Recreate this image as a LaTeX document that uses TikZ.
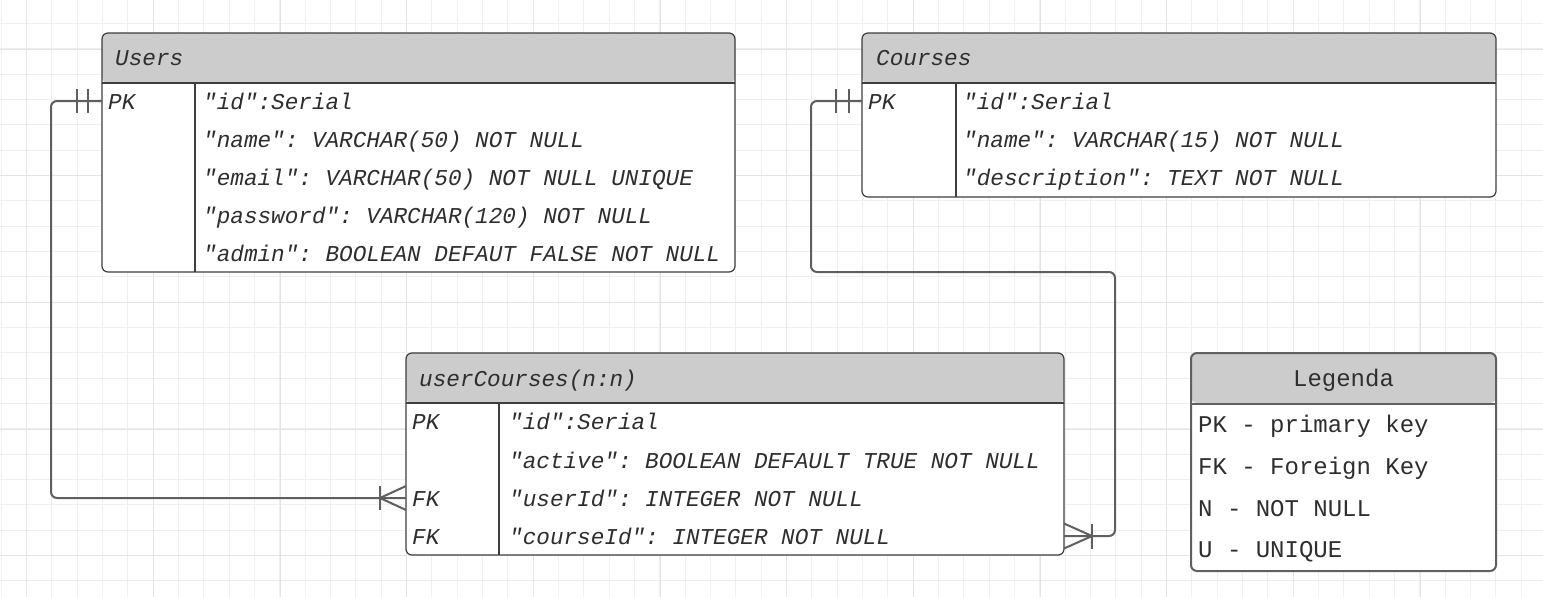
\documentclass[tikz,border=0pt]{standalone}
\usepackage{fontspec}
\setmonofont{Liberation Mono}
\newfontfamily\erfont{Liberation Mono}
\frenchspacing
\definecolor{txt}{HTML}{2E2E2E}
\definecolor{hdr}{HTML}{CCCCCC}
\definecolor{edge}{HTML}{3E3E3E}
\definecolor{legedge}{HTML}{606060}
\definecolor{conn}{HTML}{5F5F5F}
\definecolor{gridminor}{HTML}{EFEFEF}
\definecolor{gridmajor}{HTML}{E4E4E4}
\tikzset{
  tablebox/.style={draw=edge, line width=1.2pt, fill=white, rounded corners=6pt,
    inner sep=0pt, outer sep=0pt,
    path picture={\fill[hdr] (path picture bounding box.north west) rectangle ([yshift=-50pt]path picture bounding box.north east);}},
  legbox/.style={tablebox, draw=legedge, line width=2pt},
  sepline/.style={draw=edge, line width=1.2pt},
  legsep/.style={draw=legedge, line width=2.2pt},
  attr/.style={anchor=base west, yshift=-8pt, inner sep=0pt, text=txt,
    font=\erfont\itshape\fontsize{22.67}{27}\selectfont\frenchspacing},
  legtext/.style={anchor=base west, yshift=-8pt, inner sep=0pt, text=txt,
    font=\erfont\fontsize{24}{28}\selectfont\frenchspacing},
  conn/.style={draw=conn, line width=2pt, rounded corners=6pt},
  tick/.style={draw=conn, line width=2pt},
}
\begin{document}
\begin{tikzpicture}[x=1pt, y=-1pt]
\useasboundingbox (0,0) rectangle (1543,597);
\fill[white] (0,0) rectangle (1543,597);
% grid
\foreach \i in {0,...,61} \draw[gridminor, line width=1pt] ({1.333+25.333*\i},0) -- ++(0,597);
\foreach \i in {0,...,24} \draw[gridminor, line width=1pt] (0,{-1.667+25.333*\i}) -- ++(1543,0);
\foreach \i in {0,...,12} \draw[gridmajor, line width=1pt] ({26.667+126.667*\i},0) -- ++(0,597);
\foreach \i in {0,...,4} \draw[gridmajor, line width=1pt] (0,{49+126.667*\i}) -- ++(1543,0);

% ---------- Users ----------
\node[tablebox, minimum width=633pt, minimum height=239pt] (users) at (418.5,152.5) {};
\draw[sepline] (102,83) -- (735,83);
\draw[sepline] (195,83) -- (195,272);
\node[attr] (usersTitle) at (115,57) {Users};
\node[attr] (usersK1) at (108,101) {PK};
\node[attr] (usersA1) at (203,101) {"id":Serial};
\node[attr] (usersA2) at (203,139) {"name": VARCHAR(50) NOT NULL};
\node[attr] (usersA3) at (203,177) {"email": VARCHAR(50) NOT NULL UNIQUE};
\node[attr] (usersA4) at (203,215) {"password": VARCHAR(120) NOT NULL};
\node[attr] (usersA5) at (203,253) {"admin": BOOLEAN DEFAUT FALSE NOT NULL};

% ---------- Courses ----------
\node[tablebox, minimum width=634pt, minimum height=164pt] (courses) at (1179,115) {};
\draw[sepline] (862,83) -- (1496,83);
\draw[sepline] (956,83) -- (956,197);
\node[attr] (coursesTitle) at (876,57) {Courses};
\node[attr] (coursesK1) at (868,101) {PK};
\node[attr] (coursesA1) at (963,101) {"id":Serial};
\node[attr] (coursesA2) at (963,139) {"name": VARCHAR(15) NOT NULL};
\node[attr] (coursesA3) at (963,177) {"description": TEXT NOT NULL};

% ---------- userCourses ----------
\node[tablebox, minimum width=658pt, minimum height=202pt] (uc) at (735,454) {};
\draw[sepline] (406,403) -- (1064,403);
\draw[sepline] (499,403) -- (499,555);
\node[attr] (ucTitle) at (419,378) {userCourses(n:n)};
\node[attr] (ucK1) at (412,421) {PK};
\node[attr] (ucA1) at (509,421) {"id":Serial};
\node[attr] (ucA2) at (509,460) {"active": BOOLEAN DEFAULT TRUE NOT NULL};
\node[attr] (ucK3) at (412,498) {FK};
\node[attr] (ucA3) at (509,498) {"userId": INTEGER NOT NULL};
\node[attr] (ucK4) at (412,536) {FK};
\node[attr] (ucA4) at (509,536) {"courseId": INTEGER NOT NULL};

% ---------- Legenda ----------
\node[legbox, minimum width=305pt, minimum height=218pt] (legend) at (1343.5,462) {};
\draw[legsep] (1191,404) -- (1496,404);
\node[legtext, anchor=base] (legendTitle) at (1343.5,378) {Legenda};
\node[legtext] (leg1) at (1198,424) {PK - primary key};
\node[legtext] (leg2) at (1198,466) {FK - Foreign Key};
\node[legtext] (leg3) at (1198,508) {N - NOT NULL};
\node[legtext] (leg4) at (1198,549) {U - UNIQUE};

% ---------- connector end points ----------
\coordinate (usersPK) at (102,101);
\coordinate (coursesPK) at (862,101);
\coordinate (ucUser) at (406,498);
\coordinate (ucCourse) at (1064,536);

% Users (one) -> userCourses (many)
\draw[conn] (usersPK) -- ++(-51,0) |- (ucUser);
\draw[tick] ([xshift=-25.5pt]usersPK) ++(0,-12) -- ++(0,24);
\draw[tick] ([xshift=-14pt]usersPK) ++(0,-12) -- ++(0,24);
\draw[tick] ([yshift=12pt]ucUser) -- ([xshift=-26pt]ucUser) -- ([yshift=-12pt]ucUser);
\draw[tick] ([xshift=-26pt]ucUser) ++(0,-12) -- ++(0,24);

% Courses (one) -> userCourses (many)
\draw[conn] (coursesPK) -- ++(-51,0) -- (811,272) -- (1115,272) |- (ucCourse);
\draw[tick] ([xshift=-26pt]coursesPK) ++(0,-12) -- ++(0,24);
\draw[tick] ([xshift=-13pt]coursesPK) ++(0,-12) -- ++(0,24);
\draw[tick] ([yshift=12.5pt]ucCourse) -- ([xshift=28pt]ucCourse) -- ([yshift=-12.5pt]ucCourse);
\draw[tick] ([xshift=28pt]ucCourse) ++(0,-12.5) -- ++(0,25);
\end{tikzpicture}
\end{document}
